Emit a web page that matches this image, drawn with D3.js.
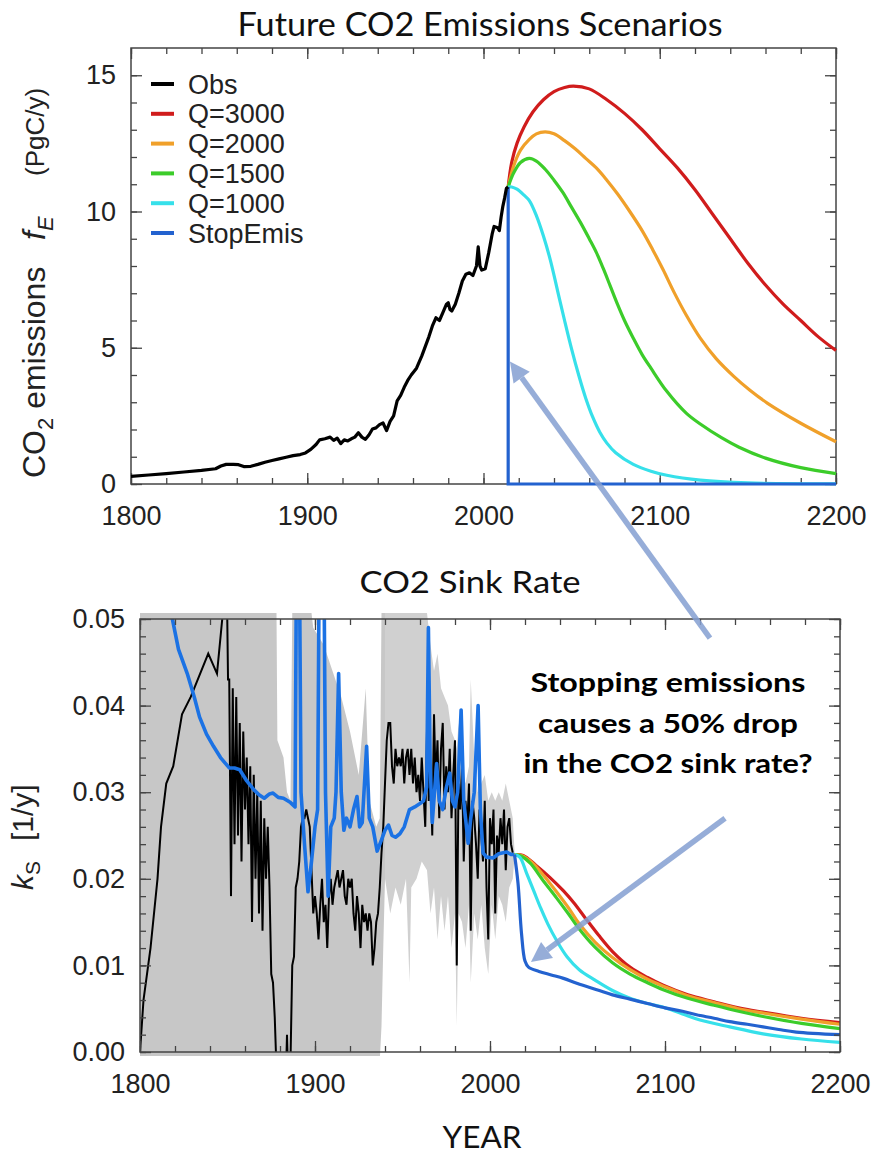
<!DOCTYPE html>
<html lang="en">
<head>
<meta charset="utf-8">
<title>Future CO2 Emissions Scenarios / CO2 Sink Rate</title>
<script src="https://d3js.org/d3.v7.min.js"></script>
<style>
  body { margin: 0; background: #fff; }
  .axis text { font-family: "Liberation Sans", Arial, sans-serif; font-size: 27px; fill: #222; }
  .axis line { stroke: #444; stroke-width: 1.3px; }
  .frame { fill: none; stroke: #444; stroke-width: 1.5px; }
  .title { font-family: Lato, "Open Sans", sans-serif; fill: #111; }
  .ylab { font-family: "Liberation Sans", Arial, sans-serif; fill: #222; }
  .legend text { font-family: "Liberation Sans", Arial, sans-serif; font-size: 27px; fill: #222; }
  .note { font-family: Lato, "Open Sans", sans-serif; font-weight: 700; font-size: 27px; fill: #000; }
</style>
</head>
<body>
<script>
// ---------- data ----------
const xMajor = [1800, 1900, 2000, 2100, 2200];
const emisTicks = [0, 5, 10, 15];
const sinkTicks = [0, 0.01, 0.02, 0.03, 0.04, 0.05];

const scenarioNames  = ["Obs", "Q=3000", "Q=2000", "Q=1500", "Q=1000", "StopEmis"];
const scenarioColors = ["#000000", "#d01c1c", "#f0a02a", "#3ccc2a", "#36e0ea", "#2362cf"];

// top panel: emissions f_E (PgC/y)
const emisObs = [[1800,0.28],[1810,0.33],[1820,0.38],[1830,0.44],[1840,0.50],[1848,0.56],[1851,0.66],[1854,0.72],
  [1858,0.72],[1861,0.71],[1864,0.64],[1868,0.65],[1872,0.72],[1876,0.80],[1880,0.86],[1884,0.92],[1888,0.98],
  [1892,1.04],[1896,1.08],[1899,1.14],[1902,1.27],[1905,1.45],[1907,1.62],[1910,1.66],[1913,1.72],[1915,1.60],
  [1917,1.68],[1919,1.48],[1921,1.62],[1923,1.58],[1925,1.66],[1927,1.72],[1929,1.88],[1931,1.72],[1933,1.64],
  [1935,1.80],[1937,2.02],[1939,2.06],[1941,2.18],[1943,2.24],[1945,1.96],[1947,2.30],[1949,2.50],[1951,3.05],
  [1953,3.25],[1955,3.55],[1957,3.80],[1959,4.00],[1962,4.25],[1965,4.70],[1967,5.05],[1969,5.40],[1971,5.80],
  [1973,6.10],[1975,6.00],[1977,6.30],[1979,6.60],[1980,6.65],[1981,6.40],[1982,6.35],[1984,6.60],[1986,7.00],
  [1988,7.45],[1990,7.70],[1992,7.75],[1994,7.65],[1996,8.00],[1997,8.70],[1998,8.00],[1999,7.85],[2001,7.90],
  [2003,8.50],[2005,9.20],[2006,9.45],[2008,9.40],[2009,9.30],[2010,9.80],[2011,10.20],[2012,10.50],[2013,10.85],[2014,10.90]];
const emisQ3000 = [[2014,10.9],[2016,11.8],[2019,12.5],[2023,13.1],[2028,13.65],[2034,14.1],[2040,14.4],[2046,14.55],
  [2051,14.6],[2060,14.5],[2070,14.1],[2080,13.6],[2090,13.0],[2100,12.3],[2110,11.6],[2120,10.8],[2130,9.9],
  [2140,9.0],[2150,8.1],[2160,7.3],[2170,6.6],[2180,6.0],[2190,5.4],[2200,4.9]];
const emisQ2000 = [[2014,10.9],[2017,11.65],[2021,12.25],[2026,12.65],[2030,12.85],[2035,12.92],[2040,12.85],
  [2046,12.6],[2052,12.3],[2058,11.95],[2064,11.6],[2070,11.15],[2076,10.65],[2083,10.0],[2090,9.3],[2096,8.6],
  [2102,7.85],[2108,7.05],[2115,6.2],[2123,5.35],[2132,4.6],[2142,3.95],[2151,3.45],[2161,2.97],[2180,2.23],[2200,1.55]];
const emisQ1500 = [[2014,10.9],[2017,11.4],[2021,11.8],[2026,11.95],[2030,11.85],[2035,11.55],[2040,11.15],[2045,10.7],
  [2050,10.15],[2055,9.6],[2060,9.0],[2064,8.5],[2068,7.9],[2072,7.25],[2076,6.6],[2080,6.0],[2085,5.35],[2090,4.75],
  [2095,4.25],[2104,3.4],[2115,2.6],[2123,2.2],[2135,1.7],[2145,1.35],[2160,0.95],[2180,0.6],[2200,0.38]];
const emisQ1000 = [[2014,10.9],[2016,10.9],[2019,10.82],[2023,10.6],[2026,10.4],[2030,9.85],[2034,9.1],[2038,8.2],
  [2042,7.1],[2046,6.0],[2050,4.95],[2054,4.0],[2058,3.15],[2062,2.45],[2066,1.9],[2070,1.5],[2075,1.15],
  [2085,0.72],[2095,0.47],[2104,0.32],[2123,0.14],[2150,0.04],[2200,0.01]];
const emisStop = [[2014,10.9],[2014,0],[2200,0]];

// bottom panel: sink rate k_S (1/y)
const sinkObs = [[1800,0.000],[1802,0.006],[1806,0.012],[1810,0.020],[1812,0.026],[1815,0.031],[1819,0.033],
  [1824,0.039],[1829,0.041],[1839,0.046],[1844,0.0437],[1847,0.050],[1849.5,0.056],[1850.3,0.043],[1851,0.043],
  [1852,0.018],[1853,0.042],[1854,0.024],[1855,0.041],[1856,0.025],[1857,0.038],[1858,0.022],[1859,0.037],
  [1860,0.028],[1861,0.034],[1862,0.024],[1863,0.033],[1864,0.015],[1865,0.032],[1866,0.020],[1867,0.030],
  [1868,0.016],[1869,0.029],[1870,0.014],[1871,0.027],[1872,0.020],[1873,0.026],[1874,0.019],[1875,0.009],
  [1876,0.008],[1877,0.004],[1878,-0.002],[1883.5,-0.002],[1884,0.002],[1884.5,-0.002],[1886,-0.001],[1887,0.010],
  [1888,0.011],[1889,0.019],[1890,0.020],[1891,0.022],[1892,0.026],[1893,0.027],[1894,0.027],[1895,0.028],
  [1896,0.027],[1897,0.026],[1898,0.021],[1899,0.016],[1900,0.018],[1901,0.016],[1902,0.013],[1903,0.017],
  [1904,0.020],[1905,0.015],[1906,0.017],[1907,0.012],[1908,0.018],[1909,0.020],[1910,0.017],[1911,0.019],
  [1912,0.020],[1913,0.021],[1914,0.019],[1915,0.020],[1916,0.021],[1917,0.018],[1918,0.017],[1919,0.020],
  [1920,0.019],[1921,0.020],[1922,0.016],[1923,0.014],[1924,0.018],[1925,0.016],[1926,0.012],[1927,0.017],
  [1928,0.015],[1929,0.016],[1930,0.014],[1931,0.016],[1932,0.015],[1933,0.010],[1934,0.012],[1935,0.015],
  [1936,0.016],[1937,0.019],[1938,0.023],[1939,0.026],[1940,0.031],[1941,0.036],[1942,0.038],[1943,0.038],
  [1944,0.033],[1945,0.031],[1946,0.035],[1947,0.033],[1948,0.034],[1949,0.033],[1950,0.035],[1951,0.031],
  [1952,0.034],[1953,0.035],[1954,0.032],[1955,0.035],[1956,0.031],[1957,0.034],[1958,0.030],[1959,0.032],
  [1960,0.029],[1961,0.034],[1962,0.030],[1963,0.026],[1964,0.037],[1965,0.029],[1966,0.033],[1967,0.025],
  [1968,0.039],[1969,0.031],[1970,0.036],[1971,0.027],[1972,0.035],[1973,0.038],[1974,0.028],[1975,0.033],
  [1976,0.030],[1977,0.035],[1978,0.027],[1979,0.032],[1980,0.036],[1981,0.010],[1982,0.031],[1983,0.028],
  [1984,0.033],[1985,0.022],[1986,0.029],[1987,0.026],[1988,0.031],[1989,0.014],[1990,0.029],[1991,0.027],
  [1992,0.024],[1993,0.020],[1994,0.028],[1995,0.025],[1996,0.022],[1997,0.029],[1998,0.019],[1999,0.013],
  [2000,0.027],[2001,0.024],[2002,0.028],[2003,0.016],[2004,0.025],[2005,0.023],[2006,0.027],[2007,0.024],
  [2008,0.028],[2009,0.021],[2010,0.026],[2011,0.027],[2012,0.024],[2013,0.023]];
const sinkModel = [[1816,0.056],[1818,0.0505],[1822,0.0465],[1827,0.0437],[1831,0.041],[1834,0.0387],[1838,0.0367],
  [1842,0.0353],[1846,0.034],[1851,0.0328],[1854,0.0328],[1857,0.0326],[1861,0.0313],[1865,0.0303],[1868,0.0297],
  [1871,0.0293],[1874,0.0298],[1876,0.0299],[1879,0.0294],[1882,0.0293],[1886,0.0288],[1888.6,0.0283],
  [1889.5,0.06],[1891,0.06],[1892,0.03],[1894,0.024],[1896,0.0185],[1898,0.022],[1900,0.026],[1901.5,0.028],
  [1902.5,0.06],[1905,0.06],[1906,0.03],[1907.5,0.018],[1909,0.026],[1911,0.027],[1912,0.03],[1913.5,0.0437],
  [1915,0.03],[1916.5,0.0256],[1918,0.027],[1920,0.026],[1922,0.028],[1924,0.0295],[1925.5,0.026],[1927,0.0265],
  [1929.5,0.0353],[1931,0.027],[1933,0.026],[1935.5,0.0232],[1938,0.0245],[1940,0.0256],[1942,0.0262],
  [1944,0.025],[1946,0.0248],[1948.5,0.0252],[1951,0.026],[1954,0.028],[1957,0.0283],[1960,0.0287],[1962,0.029],
  [1963.8,0.0306],[1964.8,0.049],[1965.8,0.0333],[1967,0.0265],[1969.5,0.0333],[1971,0.029],[1973,0.028],
  [1975,0.0305],[1977,0.0322],[1978.5,0.029],[1980,0.0283],[1981.5,0.030],[1983.5,0.0395],[1985,0.029],
  [1987.5,0.0241],[1989,0.027],[1991,0.03],[1993.2,0.040],[1994.5,0.028],[1996,0.023],[1998,0.0225],
  [2001.7,0.0224],[2005,0.0229],[2009.5,0.0231],[2012,0.0228],[2014,0.0228]];
const sinkQ3000 = [[2014,0.0228],[2019,0.0227],[2026,0.0216],[2034,0.0202],[2042,0.0186],[2048,0.0172],[2054,0.0156],
  [2062,0.0135],[2070,0.0116],[2080,0.0098],[2090,0.0086],[2099,0.0077],[2113,0.0066],[2128,0.0058],[2142,0.0051],
  [2156,0.0046],[2178,0.0039],[2200,0.0034]];
const sinkQ2000 = [[2014,0.0228],[2018,0.0227],[2024,0.0219],[2031,0.0203],[2038,0.0185],[2045,0.0166],[2051,0.0148],
  [2060,0.0127],[2070,0.0109],[2080,0.0095],[2090,0.0084],[2099,0.0076],[2113,0.0065],[2128,0.0057],[2142,0.005],
  [2156,0.0045],[2178,0.0038],[2200,0.0032]];
const sinkQ1500 = [[2014,0.0228],[2018,0.0226],[2023,0.0218],[2030,0.0199],[2038,0.0178],[2045,0.0159],[2051,0.0142],
  [2060,0.0121],[2070,0.0103],[2080,0.009],[2090,0.008],[2099,0.0072],[2113,0.0062],[2128,0.0054],[2142,0.0047],
  [2156,0.0041],[2178,0.0033],[2200,0.0027]];
const sinkQ1000 = [[2014,0.0228],[2017,0.0225],[2021,0.0206],[2025,0.0186],[2029,0.0166],[2033,0.0148],[2038,0.0129],
  [2044,0.011],[2051,0.0095],[2060,0.0083],[2070,0.0071],[2080,0.0062],[2090,0.0056],[2100,0.0051],[2110,0.0044],
  [2120,0.0037],[2137,0.0029],[2156,0.0021],[2178,0.0015],[2200,0.0011]];
const sinkStop = [[2014,0.0228],[2016,0.0195],[2018,0.0137],[2020,0.0105],[2022,0.0098],[2028,0.0093],[2035,0.0089],
  [2042,0.0085],[2050,0.0079],[2061,0.0072],[2070,0.0066],[2080,0.0061],[2090,0.0056],[2100,0.0051],[2110,0.0047],
  [2118,0.0043],[2128,0.0039],[2137,0.0035],[2147,0.0032],[2156,0.0029],[2165,0.0026],[2175,0.0023],[2200,0.002]];
// grey uncertainty band of observed k_S: [year, low, high]; darker early part, lighter recent part
const sinkBandEarly = [[1800,-0.001,0.0507],[1878,-0.001,0.0507],[1878.5,-0.001,0.036],[1882,-0.001,0.034],
  [1884,-0.001,0.030],[1886,-0.001,0.029],[1887,-0.001,0.0507],[1898,-0.001,0.0507],[1899,-0.001,0.049],
  [1905,-0.001,0.047],[1910,-0.001,0.044],[1915,-0.001,0.041],[1920,-0.001,0.037],[1925,-0.001,0.032],
  [1929,-0.001,0.042],[1931,-0.001,0.029],[1935,-0.001,0.026],[1937,-0.001,0.027],[1938,0.003,0.0507],
  [1939,0.012,0.0507],[1940,0.020,0.0507]];
const sinkBandLate = [[1940,0.020,0.0507],[1943,0.016,0.0507],[1946,0.019,0.0507],[1949,0.017,0.0507],
  [1952,0.020,0.0507],[1954,0.008,0.0507],[1955,0.019,0.0507],[1958,0.020,0.0507],[1961,0.022,0.0507],
  [1964,0.021,0.0507],[1966,0.016,0.047],[1968,0.019,0.044],[1970,0.013,0.046],[1972,0.018,0.042],
  [1974,0.014,0.041],[1976,0.018,0.040],[1978,0.012,0.037],[1980,0.016,0.036],[1981,0.003,0.035],
  [1982,0.016,0.038],[1984,0.015,0.033],[1986,0.012,0.031],[1988,0.017,0.033],[1989,0.008,0.043],
  [1991,0.016,0.034],[1993,0.013,0.030],[1995,0.017,0.031],[1997,0.012,0.032],[1999,0.009,0.029],
  [2001,0.017,0.030],[2003,0.013,0.029],[2005,0.018,0.030],[2007,0.017,0.029],[2009,0.015,0.031],
  [2011,0.019,0.029],[2013,0.020,0.027],[2014,0.0225,0.0232]];

const noteLines = ["Stopping emissions", "causes a 50% drop", "in the CO2 sink rate?"];
// arrows in data units: tail / tip
const arrowTop = { tail: [2125.7, 0.0478], tip: [2015, 4.5] };   // tail in lower panel, tip in upper panel
const arrowBot = { tail: [2134.3, 0.0270], tip: [2023.4, 0.0104] };

// ---------- layout ----------
const W = 875, H = 1154;
const xTop = d3.scaleLinear().domain([1800, 2200]).range([131, 836]);
const yTop = d3.scaleLinear().domain([0, 16]).range([484, 48]);
const xBot = d3.scaleLinear().domain([1800, 2200]).range([140, 840]);
const yBot = d3.scaleLinear().domain([0, 0.05]).range([1052, 619]);

const svg = d3.select("body").append("svg").attr("width", W).attr("height", H);
const defs = svg.append("defs");

function clip(id, x, y, pad) {
  defs.append("clipPath").attr("id", id).append("rect")
    .attr("x", x.range()[0] - pad).attr("y", y.range()[1] - pad)
    .attr("width", x.range()[1] - x.range()[0] + 2 * pad)
    .attr("height", y.range()[0] - y.range()[1] + 2 * pad);
}
clip("clipTop", xTop, yTop, 2);
clip("clipBot", xBot, yBot, 0);
defs.append("clipPath").attr("id", "clipBand").append("rect")
  .attr("x", xBot(1800) - 1).attr("y", yBot(0.05) - 6)
  .attr("width", xBot(2200) - xBot(1800) + 1).attr("height", yBot(0) - yBot(0.05) + 10);

function axes(x, y, yMajor, yMinor, yFmt) {
  const x0 = x.range()[0], x1 = x.range()[1], yb = y.range()[0], yt = y.range()[1];
  const xMinor = d3.range(1800, 2201, 20);
  const g = svg.append("g");
  g.append("g").attr("class", "axis").attr("transform", `translate(0,${yb})`)
    .call(d3.axisBottom(x).tickValues(xMinor).tickSize(-6).tickFormat(""));
  g.append("g").attr("class", "axis").attr("transform", `translate(0,${yb})`)
    .call(d3.axisBottom(x).tickValues(xMajor).tickSize(-11).tickPadding(22).tickFormat(d3.format("d")));
  g.append("g").attr("class", "axis").attr("transform", `translate(0,${yt})`)
    .call(d3.axisTop(x).tickValues(xMinor).tickSize(-6).tickFormat(""));
  g.append("g").attr("class", "axis").attr("transform", `translate(0,${yt})`)
    .call(d3.axisTop(x).tickValues(xMajor).tickSize(-11).tickFormat(""));
  g.append("g").attr("class", "axis").attr("transform", `translate(${x0},0)`)
    .call(d3.axisLeft(y).tickValues(yMinor).tickSize(-6).tickFormat(""));
  g.append("g").attr("class", "axis").attr("transform", `translate(${x0},0)`)
    .call(d3.axisLeft(y).tickValues(yMajor).tickSize(-11).tickPadding(15).tickFormat(yFmt));
  g.append("g").attr("class", "axis").attr("transform", `translate(${x1},0)`)
    .call(d3.axisRight(y).tickValues(yMinor).tickSize(-6).tickFormat(""));
  g.append("g").attr("class", "axis").attr("transform", `translate(${x1},0)`)
    .call(d3.axisRight(y).tickValues(yMajor).tickSize(-11).tickFormat(""));
  g.selectAll(".domain").remove();
  g.append("rect").attr("class", "frame")
    .attr("x", x0).attr("y", yt).attr("width", x1 - x0).attr("height", yb - yt);
}

// ---------- top panel ----------
axes(xTop, yTop, emisTicks, d3.range(0, 16, 1), d3.format("d"));

const lineTop = d3.line().x(d => xTop(d[0])).y(d => yTop(d[1])).curve(d3.curveCatmullRom.alpha(0.5));
const lineTopLin = d3.line().x(d => xTop(d[0])).y(d => yTop(d[1]));
const gTop = svg.append("g").attr("clip-path", "url(#clipTop)");
[emisQ3000, emisQ2000, emisQ1500, emisQ1000].forEach((s, i) => {
  gTop.append("path").datum(s).attr("d", lineTop)
    .attr("fill", "none").attr("stroke", scenarioColors[i + 1]).attr("stroke-width", 3.2);
});
gTop.append("path").datum(emisStop).attr("d", lineTopLin)
  .attr("fill", "none").attr("stroke", scenarioColors[5]).attr("stroke-width", 3.2);
gTop.append("path").datum(emisObs).attr("d", lineTopLin)
  .attr("fill", "none").attr("stroke", "#000").attr("stroke-width", 3.2).attr("stroke-linejoin", "round");

// legend
const legend = svg.append("g").attr("class", "legend");
scenarioNames.forEach((name, i) => {
  const yy = 84 + i * 29.8;
  legend.append("line").attr("x1", 151).attr("x2", 174).attr("y1", yy).attr("y2", yy)
    .attr("stroke", scenarioColors[i]).attr("stroke-width", 4);
  legend.append("text").attr("x", 188).attr("y", yy + 9.5).text(name);
});

// titles & axis labels
svg.append("text").attr("class", "title").attr("x", 480).attr("y", 36)
  .attr("text-anchor", "middle").attr("font-size", 32)
  .attr("textLength", 485).attr("lengthAdjust", "spacingAndGlyphs")
  .text("Future CO2 Emissions Scenarios");

// y label of the top panel, in three pieces placed along the axis
const ylab1 = svg.append("text").attr("class", "ylab").attr("font-size", 32)
  .attr("transform", "translate(45,478) rotate(-90)");
ylab1.append("tspan").text("CO");
ylab1.append("tspan").attr("font-size", 22).attr("dy", 8).text("2");
ylab1.append("tspan").attr("dy", -8).text(" emissions");
const ylab2 = svg.append("text").attr("class", "ylab").attr("font-size", 32)
  .attr("transform", "translate(45,240) rotate(-90)");
ylab2.append("tspan").attr("font-style", "italic").text("f");
ylab2.append("tspan").attr("font-size", 22).attr("dy", 8).attr("font-style", "italic").text("E");
svg.append("text").attr("class", "ylab").attr("font-size", 26)
  .attr("transform", "translate(44,176) rotate(-90)")
  .text("(PgC/y)");

// ---------- bottom panel ----------
const area = d3.area().x(d => xBot(d[0])).y0(d => yBot(d[1])).y1(d => yBot(d[2]));
svg.append("path").datum(sinkBandEarly).attr("d", area)
  .attr("fill", "#c7c7c7").attr("clip-path", "url(#clipBand)");
svg.append("path").datum(sinkBandLate).attr("d", area)
  .attr("fill", "#d0d0d0").attr("clip-path", "url(#clipBand)");

const lineBot = d3.line().x(d => xBot(d[0])).y(d => yBot(d[1]));
const lineBotSmooth = d3.line().x(d => xBot(d[0])).y(d => yBot(d[1])).curve(d3.curveCatmullRom.alpha(0.5));
const gBot = svg.append("g").attr("clip-path", "url(#clipBot)");
gBot.append("path").datum(sinkObs).attr("d", lineBot)
  .attr("fill", "none").attr("stroke", "#000").attr("stroke-width", 2);
gBot.append("path").datum(sinkModel).attr("d", lineBot)
  .attr("fill", "none").attr("stroke", "#1b72e4").attr("stroke-width", 3.6).attr("stroke-linejoin", "round");
[sinkQ3000, sinkQ2000, sinkQ1500, sinkQ1000, sinkStop].forEach((s, i) => {
  gBot.append("path").datum(s).attr("d", lineBotSmooth)
    .attr("fill", "none").attr("stroke", scenarioColors[i + 1]).attr("stroke-width", 3.2);
});

axes(xBot, yBot, sinkTicks, d3.range(0, 0.0501, 0.002), d3.format(".2f"));

svg.append("text").attr("class", "title").attr("x", 470).attr("y", 593)
  .attr("text-anchor", "middle").attr("font-size", 30)
  .attr("textLength", 221).attr("lengthAdjust", "spacingAndGlyphs")
  .text("CO2 Sink Rate");
svg.append("text").attr("class", "title").attr("x", 482).attr("y", 1148)
  .attr("text-anchor", "middle").attr("font-size", 30)
  .attr("textLength", 79).attr("lengthAdjust", "spacingAndGlyphs")
  .text("YEAR");

const ylabBot = svg.append("text").attr("class", "ylab").attr("font-size", 30)
  .attr("transform", "translate(33,890) rotate(-90)");
ylabBot.append("tspan").attr("font-style", "italic").text("k");
ylabBot.append("tspan").attr("font-size", 21).attr("dy", 7).text("S");
ylabBot.append("tspan").attr("dy", -7).attr("dx", 20).text("[1/y]");

// annotation text
const noteWidths = [275, 260, 289];
noteLines.forEach((t, i) => {
  svg.append("text").attr("class", "note")
    .attr("x", xBot(2101.7)).attr("y", 692 + i * 40.5)
    .attr("text-anchor", "middle")
    .attr("textLength", noteWidths[i]).attr("lengthAdjust", "spacingAndGlyphs")
    .text(t);
});

// arrows
function arrow(p0, p1) {
  const ang = Math.atan2(p1[1] - p0[1], p1[0] - p0[0]);
  const headL = 20, headW = 10;
  const bx = p1[0] - headL * Math.cos(ang), by = p1[1] - headL * Math.sin(ang);
  const g = svg.append("g").attr("opacity", 0.85);
  g.append("line").attr("x1", p0[0]).attr("y1", p0[1]).attr("x2", bx).attr("y2", by)
    .attr("stroke", "#849fd2").attr("stroke-width", 5.5);
  const px = -Math.sin(ang) * headW, py = Math.cos(ang) * headW;
  g.append("path")
    .attr("d", `M${p1[0]},${p1[1]}L${bx + px},${by + py}L${bx - px},${by - py}Z`)
    .attr("fill", "#849fd2");
}
arrow([xBot(arrowTop.tail[0]), yBot(arrowTop.tail[1])], [xTop(arrowTop.tip[0]), yTop(arrowTop.tip[1])]);
arrow([xBot(arrowBot.tail[0]), yBot(arrowBot.tail[1])], [xBot(arrowBot.tip[0]), yBot(arrowBot.tip[1])]);
</script>
</body>
</html>
